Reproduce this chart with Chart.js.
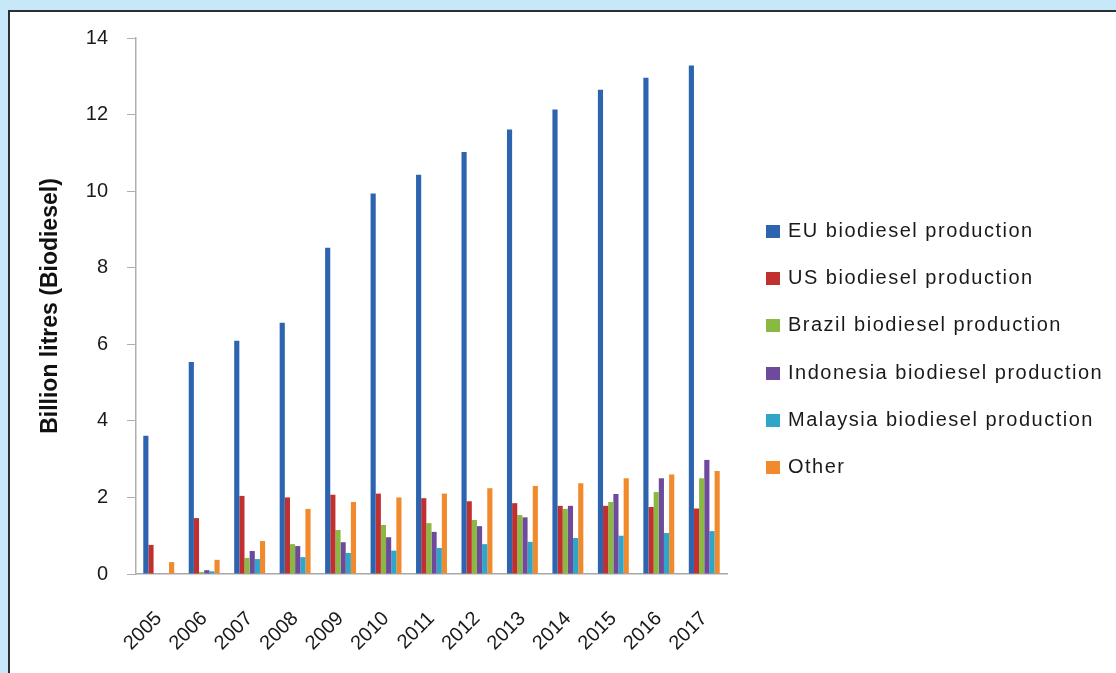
<!DOCTYPE html>
<html>
<head>
<meta charset="utf-8">
<script src="https://cdn.jsdelivr.net/npm/chart.js@4"></script>
<style>
  html, body { margin: 0; padding: 0; }
  body { width: 1116px; height: 673px; background: #c7e8f8; position: relative; overflow: hidden;
         font-family: 'Liberation Sans', Arial, sans-serif; }
  #panel { position: absolute; left: 8px; top: 10px; width: 1120px; height: 680px; background: #fff;
           border-left: 2px solid #2b2f33; border-top: 2px solid #2b2f33; }
  #wrap { position: absolute; left: 0; top: 0; width: 1116px; height: 673px; }
  #legend { position: absolute; left: 766px; top: 207px; margin: 0; padding: 0; list-style: none; }
  #legend li { height: 47.2px; line-height: 47.2px; font-size: 20px; letter-spacing: 1.5px; color: #1a1a1a; white-space: nowrap; }
  #legend span { display: inline-block; width: 14px; height: 13px; margin-right: 8px; vertical-align: -1px; }
</style>
</head>
<body>
<div id="panel"></div>
<div id="wrap"><canvas id="biodieselChart"></canvas></div>
<ul id="legend"></ul>
<script>
const years = ['2005', '2006', '2007', '2008', '2009', '2010', '2011', '2012', '2013', '2014', '2015', '2016', '2017'];
const euValues = [3.61, 5.54, 6.09, 6.56, 8.52, 9.94, 10.43, 11.02, 11.61, 12.13, 12.65, 12.96, 13.28];
const usValues = [0.76, 1.46, 2.04, 2.0, 2.07, 2.1, 1.98, 1.9, 1.85, 1.78, 1.78, 1.75, 1.71];
const brazilValues = [-0.02, 0.05, 0.42, 0.78, 1.15, 1.28, 1.33, 1.41, 1.54, 1.7, 1.88, 2.14, 2.5];
const indonesiaValues = [-0.02, 0.1, 0.6, 0.73, 0.83, 0.96, 1.1, 1.25, 1.48, 1.78, 2.09, 2.5, 2.98];
const malaysiaValues = [-0.02, 0.07, 0.39, 0.44, 0.55, 0.61, 0.68, 0.78, 0.84, 0.94, 1.0, 1.07, 1.12];
const otherValues = [0.31, 0.37, 0.86, 1.7, 1.88, 2.0, 2.1, 2.24, 2.3, 2.37, 2.5, 2.6, 2.69];
const yTicks = [0, 2, 4, 6, 8, 10, 12, 14];

const font = "'Liberation Sans', Arial, sans-serif";

function serie(label, data, color) {
  return { label: label, data: data, backgroundColor: color, borderWidth: 0,
           barPercentage: 1, categoryPercentage: 0.68 };
}

const chart = new Chart(document.getElementById('biodieselChart'), {
  type: 'bar',
  data: {
    labels: years,
    datasets: [
      serie('EU biodiesel production', euValues, '#2c64b0'),
      serie('US biodiesel production', usValues, '#c0302e'),
      serie('Brazil biodiesel production', brazilValues, '#8ab843'),
      serie('Indonesia biodiesel production', indonesiaValues, '#6d4a9c'),
      serie('Malaysia biodiesel production', malaysiaValues, '#2fa6c8'),
      serie('Other', otherValues, '#f08a2c')
    ]
  },
  options: {
    responsive: true,
    maintainAspectRatio: false,
    animation: false,
    layout: { padding: { top: 38, bottom: 14, left: 0, right: 389 } },
    plugins: {
      tooltip: { enabled: false },
      legend: { display: false } // legende faite en HTML, plus bas
    },
    scales: {
      x: {
        grid: { display: false },
        border: { display: true, color: '#a8a8a8', width: 1.5 },
        ticks: {
          color: '#1a1a1a', font: { family: font, size: 20 },
          maxRotation: 45, minRotation: 45, padding: 25
        },
        afterFit(scale) { scale.height = 85; }
      },
      y: {
        min: 0, max: 14,
        afterBuildTicks(scale) { scale.ticks = yTicks.map(v => ({ value: v })); },
        grid: { drawOnChartArea: false, drawTicks: true, tickLength: 9, color: '#b0b0b0' },
        border: { display: true, color: '#b0b0b0', width: 1.5 },
        ticks: { color: '#1a1a1a', font: { family: font, size: 20 }, padding: 19 },
        title: {
          display: true, text: 'Billion litres (Biodiesel)', color: '#111',
          font: { family: font, size: 23, weight: 'bold' },
          padding: { top: 37, bottom: 0 }
        },
        afterFit(scale) { scale.width = 136; }
      }
    }
  }
});

// legende
const ul = document.getElementById('legend');
chart.data.datasets.forEach(ds => {
  const li = document.createElement('li');
  const box = document.createElement('span');
  box.style.background = ds.backgroundColor;
  li.appendChild(box);
  li.appendChild(document.createTextNode(ds.label));
  ul.appendChild(li);
});
</script>
</body>
</html>
